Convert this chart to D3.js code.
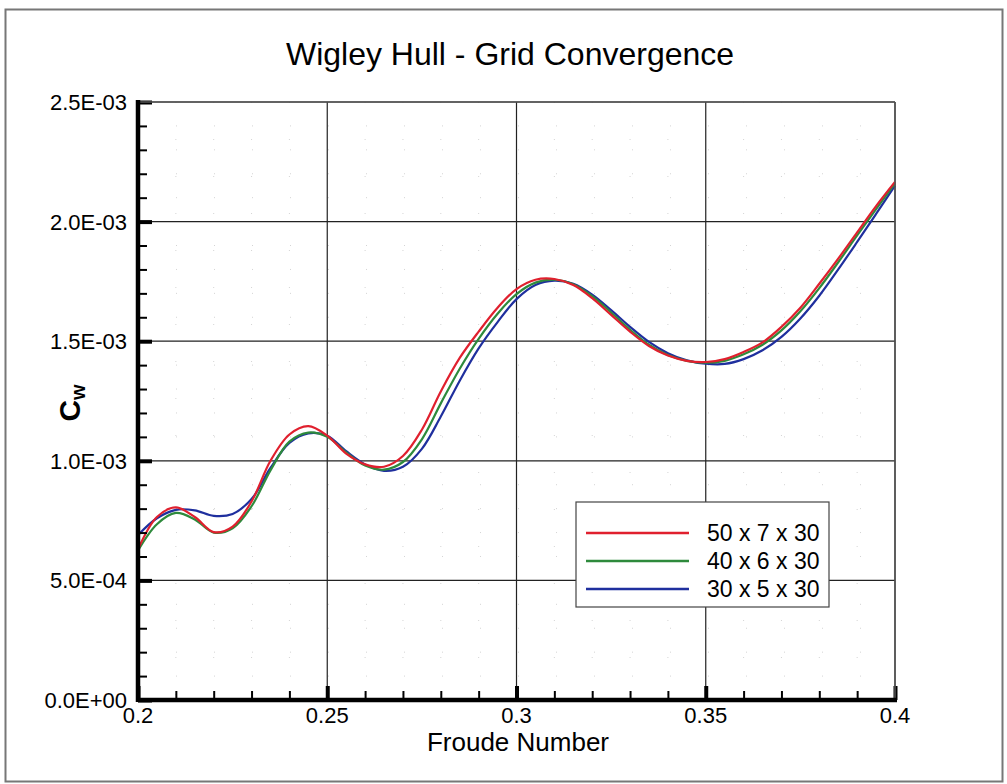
<!DOCTYPE html>
<html>
<head>
<meta charset="utf-8">
<script src="https://cdn.jsdelivr.net/npm/d3@7"></script>
<style>
  body { margin: 0; background: #fff; }
  svg { display: block; font-family: "Liberation Sans", Arial, sans-serif; }
</style>
</head>
<body>
<svg id="chart" width="1007" height="784"></svg>
<script>
/* chart data */
var froude = [0.200,0.205,0.210,0.215,0.220,0.225,0.230,0.235,0.240,0.245,
              0.250,0.255,0.260,0.265,0.270,0.275,0.280,0.285,0.290,0.295,
              0.300,0.305,0.310,0.315,0.320,0.325,0.330,0.335,0.340,0.345,
              0.350,0.355,0.360,0.365,0.370,0.375,0.380,0.385,0.390,0.395,0.400]

// Cw values in units of 1E-03
var cw50 = [0.630,0.765,0.805,0.765,0.702,0.725,0.830,1.000,1.110,1.145,
            1.105,1.030,0.985,0.975,1.020,1.130,1.290,1.430,1.540,1.640,
            1.718,1.757,1.760,1.735,1.680,1.610,1.540,1.480,1.440,1.418,
            1.413,1.425,1.455,1.495,1.560,1.640,1.740,1.845,1.955,2.065,2.166]
var cw40 = [0.625,0.735,0.782,0.755,0.700,0.718,0.810,0.960,1.080,1.118,
            1.100,1.035,0.980,0.963,0.995,1.090,1.240,1.385,1.510,1.615,
            1.697,1.745,1.757,1.738,1.688,1.620,1.548,1.485,1.442,1.418,
            1.410,1.418,1.445,1.485,1.545,1.625,1.722,1.830,1.942,2.052,2.160]
var cw30 = [0.690,0.760,0.795,0.793,0.770,0.778,0.840,0.970,1.075,1.115,
            1.105,1.040,0.985,0.958,0.975,1.050,1.185,1.335,1.470,1.580,
            1.676,1.735,1.753,1.740,1.695,1.630,1.560,1.497,1.450,1.420,
            1.406,1.405,1.425,1.462,1.518,1.595,1.690,1.800,1.915,2.032,2.150]

var seriesNames = ["50 x 7 x 30", "40 x 6 x 30", "30 x 5 x 30"]
var seriesColors = ["#e0202e", "#2e8a3c", "#1f2f9e"]
var seriesValues = [cw50, cw40, cw30]

var xTicks = [0.2, 0.25, 0.3, 0.35, 0.4]
var xTickLabels = ["0.2", "0.25", "0.3", "0.35", "0.4"]
var yTicks = [0, 0.5e-3, 1.0e-3, 1.5e-3, 2.0e-3, 2.5e-3]
var yTickLabels = ["0.0E+00", "5.0E-04", "1.0E-03", "1.5E-03", "2.0E-03", "2.5E-03"]

var titleText = "Wigley Hull - Grid Convergence"
var xLabel = "Froude Number"

/* layout */
var margin = { top: 102, right: 112, bottom: 84, left: 138 };
var width = 1007 - margin.left - margin.right;
var height = 784 - margin.top - margin.bottom;

var svg = d3.select("#chart");

// page frame
svg.append("rect")
    .attr("x", 5.5).attr("y", 9.5)
    .attr("width", 997).attr("height", 772)
    .attr("fill", "none").attr("stroke", "#777").attr("stroke-width", 2);

var g = svg.append("g")
    .attr("transform", "translate(" + margin.left + "," + margin.top + ")");

var x = d3.scaleLinear().domain([0.2, 0.4]).range([0, width]);
var y = d3.scaleLinear().domain([0, 2.5e-3]).range([height, 0]);

// faint dotted minor grid
var xMinor = d3.range(0, 21).map(function (i) { return 0.2 + i * 0.01; })
    .filter(function (v, i) { return i % 5 != 0; });
var yMinor = d3.range(0, 26).map(function (i) { return i * 1e-4; })
    .filter(function (v, i) { return i % 5 != 0; });

g.append("g").selectAll("line").data(xMinor).enter().append("line")
    .attr("x1", function (d) { return x(d); }).attr("x2", function (d) { return x(d); })
    .attr("y1", 0).attr("y2", height)
    .attr("stroke", "#d4d4d4").attr("stroke-width", 1).attr("stroke-dasharray", "1,36");
g.append("g").selectAll("line").data(yMinor).enter().append("line")
    .attr("x1", 0).attr("x2", width)
    .attr("y1", function (d) { return y(d); }).attr("y2", function (d) { return y(d); })
    .attr("stroke", "#d4d4d4").attr("stroke-width", 1).attr("stroke-dasharray", "1,37");

// major grid lines
g.append("g").selectAll("line").data(xTicks.slice(1)).enter().append("line")
    .attr("x1", function (d) { return x(d); }).attr("x2", function (d) { return x(d); })
    .attr("y1", 0).attr("y2", height)
    .attr("stroke", "#222").attr("stroke-width", 1.2);
g.append("g").selectAll("line").data(yTicks.slice(1)).enter().append("line")
    .attr("x1", 0).attr("x2", width)
    .attr("y1", function (d) { return y(d); }).attr("y2", function (d) { return y(d); })
    .attr("stroke", "#222").attr("stroke-width", 1.2);

// the curves
var line = d3.line()
    .x(function (d) { return x(d[0]); })
    .y(function (d) { return y(d[1] * 1e-3); })
    .curve(d3.curveCatmullRom.alpha(0.5));

seriesValues.slice().reverse().forEach(function (vals, i) {
  var k = seriesValues.length - 1 - i;
  g.append("path")
      .datum(froude.map(function (f, j) { return [f, vals[j]]; }))
      .attr("d", line)
      .attr("fill", "none")
      .attr("stroke", seriesColors[k])
      .attr("stroke-width", 2.2);
});

// y axis: major + minor ticks pointing inward
var yAxis = d3.axisRight(y).tickValues(yTicks).tickSize(14).tickFormat("");
var yAxisMinor = d3.axisRight(y).tickValues(yMinor).tickSize(9).tickFormat("");
var ya = g.append("g").call(yAxis);
ya.selectAll(".tick line").attr("stroke", "#000").attr("stroke-width", 4);
ya.select(".domain").remove();
var yam = g.append("g").call(yAxisMinor);
yam.selectAll(".tick line").attr("stroke", "#000").attr("stroke-width", 2);
yam.select(".domain").remove();

// x axis: ticks pointing up
var xAxis = d3.axisTop(x).tickValues(xTicks).tickSize(14).tickFormat("");
var xAxisMinor = d3.axisTop(x).tickValues(xMinor).tickSize(9).tickFormat("");
var xa = g.append("g").attr("transform", "translate(0," + height + ")").call(xAxis);
xa.selectAll(".tick line").attr("stroke", "#000").attr("stroke-width", 4);
xa.select(".domain").remove();
var xam = g.append("g").attr("transform", "translate(0," + height + ")").call(xAxisMinor);
xam.selectAll(".tick line").attr("stroke", "#000").attr("stroke-width", 2);
xam.select(".domain").remove();

// frame of the plot
g.append("line").attr("x1", 0).attr("x2", width).attr("y1", 0).attr("y2", 0)
    .attr("stroke", "#555").attr("stroke-width", 1.5);
g.append("line").attr("x1", width).attr("x2", width).attr("y1", 0).attr("y2", height)
    .attr("stroke", "#555").attr("stroke-width", 1.5);
g.append("line").attr("x1", 0).attr("x2", width + 2).attr("y1", height).attr("y2", height)
    .attr("stroke", "#000").attr("stroke-width", 4.5);
g.append("line").attr("x1", 0).attr("x2", 0).attr("y1", -2).attr("y2", height + 2)
    .attr("stroke", "#000").attr("stroke-width", 4.5);

// tick labels
g.append("g").selectAll("text").data(yTicks).enter().append("text")
    .attr("x", -11)
    .attr("y", function (d) { return y(d) + 8; })
    .attr("text-anchor", "end")
    .attr("font-size", 22)
    .text(function (d, i) { return yTickLabels[i]; });
g.append("g").selectAll("text").data(xTicks).enter().append("text")
    .attr("x", function (d) { return x(d); })
    .attr("y", height + 23)
    .attr("text-anchor", "middle")
    .attr("font-size", 22)
    .text(function (d, i) { return xTickLabels[i]; });

// title and axis labels
svg.append("text")
    .attr("x", 510).attr("y", 65)
    .attr("text-anchor", "middle")
    .attr("font-size", 32)
    .text(titleText);
svg.append("text")
    .attr("x", 518).attr("y", 751)
    .attr("text-anchor", "middle")
    .attr("font-size", 26)
    .text(xLabel);
var yl = svg.append("text")
    .attr("transform", "translate(80,403) rotate(-90)")
    .attr("text-anchor", "middle")
    .attr("font-size", 30)
    .attr("font-weight", "bold");
yl.append("tspan").text("C");
yl.append("tspan").attr("font-size", 20).attr("dy", 5).text("w");

// legend
var lg = svg.append("g").attr("transform", "translate(576,502)");
lg.append("rect")
    .attr("width", 253).attr("height", 105)
    .attr("fill", "#fff").attr("stroke", "#444").attr("stroke-width", 1.2);
seriesNames.forEach(function (name, i) {
  var yy = 31 + i * 28;
  lg.append("line")
      .attr("x1", 10).attr("x2", 113).attr("y1", yy).attr("y2", yy)
      .attr("stroke", seriesColors[i]).attr("stroke-width", 2.5);
  lg.append("text")
      .attr("x", 131).attr("y", yy + 8)
      .attr("font-size", 23)
      .text(name);
});
</script>
</body>
</html>
